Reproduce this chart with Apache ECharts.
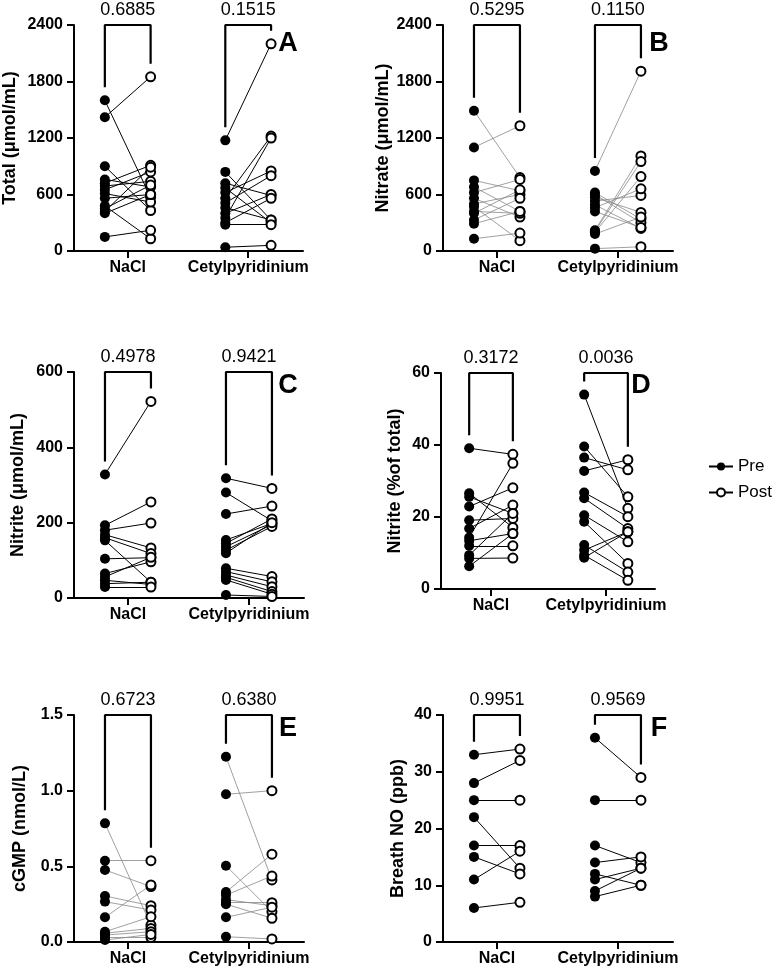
<!DOCTYPE html>
<html>
<head>
<meta charset="utf-8">
<script src="https://cdn.jsdelivr.net/npm/echarts@6/dist/echarts.min.js"></script>
<style>
  html, body { margin: 0; padding: 0; background: #fff; }
  #chart { width: 777px; height: 974px; }
</style>
</head>
<body>
<div id="chart"></div>
<script>
const FONT = "'Liberation Sans', Arial, sans-serif"

const categories = ['NaCl', 'Cetylpyridinium']

// A - total
const totalTicks = [0, 600, 1200, 1800, 2400]
const totalNaclPre = [1600, 1420, 900, 760, 720, 690, 650, 610, 560, 480, 450, 420, 400, 150]
const totalNaclPost = [570, 1850, 430, 680, 910, 740, 840, 520, 600, 130, 700, 890, 600, 220]
const totalCpcPre = [1175, 840, 720, 670, 620, 560, 510, 460, 400, 350, 300, 280, 40]
const totalCpcPost = [2200, 330, 590, 300, 850, 1220, 800, 330, 600, 1200, 560, 280, 60]
const totalP = ['0.6885', '0.1515']

// B - nitrate
const nitrateTicks = [0, 600, 1200, 1800, 2400]
const nitrateNaclPre = [1490, 1100, 750, 680, 620, 560, 500, 470, 420, 400, 330, 290, 130]
const nitrateNaclPost = [780, 1330, 640, 420, 760, 360, 600, 110, 400, 650, 560, 420, 190]
const nitrateCpcPre = [850, 620, 600, 570, 530, 490, 460, 420, 220, 210, 200, 180, 25]
const nitrateCpcPost = [1910, 340, 300, 410, 590, 240, 660, 250, 1010, 950, 790, 360, 45]
const nitrateP = ['0.5295', '0.1150']

// C - nitrite
const nitriteTicks = [0, 200, 400, 600]
const nitriteNaclPre = [328, 193, 180, 168, 160, 153, 104, 65, 56, 47, 38, 29]
const nitriteNaclPost = [522, 255, 199, 133, 118, 42, 107, 96, 108, 36, 42, 29]
const nitriteCpcPre = [318, 280, 223, 154, 145, 136, 127, 119, 79, 70, 61, 55, 48, 8]
const nitriteCpcPost = [291, 205, 244, 198, 210, 195, 190, 200, 57, 43, 30, 17, 10, 4]
const nitriteP = ['0.4978', '0.9421']

// D - nitrite % of total
const pctTicks = [0, 20, 40, 60]
const pctNaclPre = [39.1, 26.6, 25.6, 22.9, 19.1, 16.8, 14.3, 13.4, 12, 9.4, 8.5, 6.3]
const pctNaclPost = [37.4, 17.1, 21, 28.1, 19.6, 23.3, 34.9, 15.4, 12, 21, 8.6, 15.4]
const pctCpcPre = [54, 39.6, 36.5, 32.8, 26.8, 25.2, 20.5, 18.7, 12.2, 10.8, 9.4, 8.7]
const pctCpcPost = [22.4, 25.6, 33.1, 35.9, 20.1, 16.8, 13.1, 7.1, 4.7, 15.9, 2.4, 15.9]
const pctP = ['0.3172', '0.0036']

// E - cGMP
const cgmpTicks = [0, 0.5, 1.0, 1.5]
const cgmpNaclPre = [0.784, 0.537, 0.476, 0.304, 0.267, 0.163, 0.068, 0.058, 0.046, 0.029, 0.013]
const cgmpNaclPost = [0.112, 0.537, 0.366, 0.24, 0.211, 0.377, 0.167, 0.09, 0.068, 0.029, 0.05]
const cgmpCpcPre = [1.224, 0.976, 0.504, 0.33, 0.31, 0.28, 0.26, 0.25, 0.163, 0.035]
const cgmpCpcPost = [0.41, 1.0, 0.2, 0.58, 0.436, 0.24, 0.26, 0.157, 0.23, 0.02]
const cgmpP = ['0.6723', '0.6380']

// F - breath NO
const breathTicks = [0, 10, 20, 30, 40]
const breathNaclPre = [33, 28, 25, 22, 17, 15, 11, 6]
const breathNaclPost = [34, 32, 25, 13, 17, 12, 16, 7]
const breathCpcPre = [36, 25, 17, 14, 12, 11, 9, 8]
const breathCpcPost = [29, 25, 14, 15, 10, 13, 13, 10]
const breathP = ['0.9951', '0.9569']

// 面板布局
const panels = [
  { letter: 'A', yName: 'Total (μmol/mL)', ticks: totalTicks, p: totalP,
    groups: [[totalNaclPre, totalNaclPost], [totalCpcPre, totalCpcPost]],
    grid: { left: 73, top: 25, width: 230, height: 226 }, xRange: [0.554, 2.455],
    nameGap: 55, lineColor: '#000', lineWidth: 1, letterAt: [288, 44], decimals: 0 },
  { letter: 'B', yName: 'Nitrate (μmol/mL)', ticks: nitrateTicks, p: nitrateP,
    groups: [[nitrateNaclPre, nitrateNaclPost], [nitrateCpcPre, nitrateCpcPost]],
    grid: { left: 443, top: 25, width: 230, height: 226 }, xRange: [0.554, 2.455],
    nameGap: 47, lineColor: '#888', lineWidth: 0.8, letterAt: [659, 44], decimals: 0 },
  { letter: 'C', yName: 'Nitrite (μmol/mL)', ticks: nitriteTicks, p: nitriteP,
    groups: [[nitriteNaclPre, nitriteNaclPost], [nitriteCpcPre, nitriteCpcPost]],
    grid: { left: 74, top: 372, width: 230, height: 226 }, xRange: [0.554, 2.455],
    nameGap: 47, lineColor: '#000', lineWidth: 1, letterAt: [288, 386], decimals: 0 },
  { letter: 'D', yName: 'Nitrite (%of total)', ticks: pctTicks, p: pctP,
    groups: [[pctNaclPre, pctNaclPost], [pctCpcPre, pctCpcPost]],
    grid: { left: 441, top: 373, width: 214, height: 216 }, xRange: [0.565, 2.426],
    nameGap: 37, lineColor: '#000', lineWidth: 1, letterAt: [641, 386], decimals: 0 },
  { letter: 'E', yName: 'cGMP (nmol/L)', ticks: cgmpTicks, p: cgmpP,
    groups: [[cgmpNaclPre, cgmpNaclPost], [cgmpCpcPre, cgmpCpcPost]],
    grid: { left: 74, top: 715, width: 230, height: 227 }, xRange: [0.554, 2.455],
    nameGap: 45, lineColor: '#888', lineWidth: 0.8, letterAt: [288, 729], decimals: 1 },
  { letter: 'F', yName: 'Breath NO (ppb)', ticks: breathTicks, p: breathP,
    groups: [[breathNaclPre, breathNaclPost], [breathCpcPre, breathCpcPost]],
    grid: { left: 443, top: 715, width: 230, height: 227 }, xRange: [0.554, 2.455],
    nameGap: 36, lineColor: '#000', lineWidth: 1, letterAt: [659, 729], decimals: 0 },
]

const OFFSET = 0.19 // pre / post 偏移
const LEG_GAP_PX = 13

const series = []
panels.forEach((panel, i) => {
  const yMax = panel.ticks[panel.ticks.length - 1]
  const gapVal = LEG_GAP_PX / panel.grid.height * yMax
  const pairs = []
  const pre = []
  const post = []
  const pLabels = []

  panel.groups.forEach(([preVals, postVals], g) => {
    const xPre = g + 1 - OFFSET
    const xPost = g + 1 + OFFSET
    preVals.forEach((v, k) => {
      pairs.push({ coords: [[xPre, v], [xPost, postVals[k]]] })
      pre.push([xPre, v])
      post.push([xPost, postVals[k]])
    })
    const legL = Math.min(yMax, Math.max(...preVals) + gapVal)
    const legR = Math.min(yMax - 0.02 * yMax, Math.max(...postVals) + gapVal)
    // 括号
    series.push({
      type: 'line', xAxisIndex: i, yAxisIndex: i, silent: true, clip: false,
      symbol: 'none', z: 2,
      lineStyle: { color: '#000', width: 2.2 },
      data: [[xPre, legL], [xPre, yMax], [xPost, yMax], [xPost, legR]],
    })
    pLabels.push({ value: [g + 1, yMax], label: { formatter: panel.p[g] } })
  })

  series.push({
    type: 'lines', coordinateSystem: 'cartesian2d', xAxisIndex: i, yAxisIndex: i,
    silent: true, z: 1, clip: false,
    lineStyle: { color: panel.lineColor, width: panel.lineWidth, opacity: 1 },
    data: pairs,
  })
  series.push({
    type: 'scatter', xAxisIndex: i, yAxisIndex: i, silent: true, clip: false, z: 3,
    symbol: 'circle', symbolSize: 10,
    itemStyle: { color: '#000', opacity: 1 },
    data: pre,
  })
  series.push({
    type: 'scatter', xAxisIndex: i, yAxisIndex: i, silent: true, clip: false, z: 4,
    symbol: 'circle', symbolSize: 9,
    itemStyle: { color: '#fff', borderColor: '#000', borderWidth: 2, opacity: 1 },
    data: post,
  })
  // p 值文字
  series.push({
    type: 'scatter', xAxisIndex: i, yAxisIndex: i, silent: true, clip: false, z: 5,
    symbolSize: 0, itemStyle: { color: '#000' },
    label: {
      show: true, position: 'top', distance: 6,
      color: '#000', opacity: 1, fontSize: 18, fontFamily: FONT,
    },
    data: pLabels,
  })
})

// 图例用的空系列
series.push({
  type: 'line', name: 'Pre', xAxisIndex: 3, yAxisIndex: 3, data: [],
  symbol: 'circle', symbolSize: 8,
  itemStyle: { color: '#000' }, lineStyle: { color: '#000', width: 1.5 },
})
series.push({
  type: 'line', name: 'Post', xAxisIndex: 3, yAxisIndex: 3, data: [],
  symbol: 'circle', symbolSize: 8,
  itemStyle: { color: '#fff', borderColor: '#000', borderWidth: 2 },
  lineStyle: { color: '#000', width: 1.5 },
})

const option = {
  animation: false,
  backgroundColor: '#fff',
  textStyle: { fontFamily: FONT },
  legend: {
    data: ['Pre', 'Post'],
    orient: 'vertical',
    left: 703, top: 453,
    itemWidth: 24, itemHeight: 10, itemGap: 9,
    selectedMode: false,
    textStyle: { fontSize: 17, color: '#000', fontFamily: FONT },
  },
  grid: panels.map(p => ({ ...p.grid })),
  xAxis: panels.map((p, i) => ({
    type: 'value', gridIndex: i,
    min: p.xRange[0], max: p.xRange[1],
    splitLine: { show: false },
    axisLine: { show: true, onZero: false, lineStyle: { color: '#000', width: 2 } },
    axisTick: { show: true, customValues: [1, 2], length: 7, lineStyle: { color: '#000', width: 2 } },
    axisLabel: {
      customValues: [1, 2], margin: 9,
      formatter: v => categories[Math.round(v) - 1],
      color: '#000', fontSize: 16, fontWeight: 'bold', fontFamily: FONT,
    },
  })),
  yAxis: panels.map((p, i) => ({
    type: 'value', gridIndex: i,
    min: p.ticks[0], max: p.ticks[p.ticks.length - 1],
    interval: p.ticks[1] - p.ticks[0],
    name: p.yName, nameLocation: 'middle', nameGap: p.nameGap,
    nameTextStyle: { color: '#000', fontSize: 18, fontWeight: 'bold', fontFamily: FONT },
    splitLine: { show: false },
    axisLine: { show: true, onZero: false, lineStyle: { color: '#000', width: 2 } },
    axisTick: { show: true, length: 7, lineStyle: { color: '#000', width: 2 } },
    axisLabel: {
      margin: 11,
      formatter: v => v.toFixed(p.decimals),
      color: '#000', fontSize: 16, fontWeight: 'bold', fontFamily: FONT,
    },
  })),
  graphic: panels.map(p => ({
    type: 'text', x: p.letterAt[0], y: p.letterAt[1], silent: true,
    style: {
      text: p.letter, fill: '#000',
      font: "bold 27px 'Liberation Sans', Arial, sans-serif",
      align: 'center', verticalAlign: 'middle',
    },
  })),
  series,
}

const chart = echarts.init(document.getElementById('chart'), null, { renderer: 'canvas' })
chart.setOption(option)
</script>
</body>
</html>
